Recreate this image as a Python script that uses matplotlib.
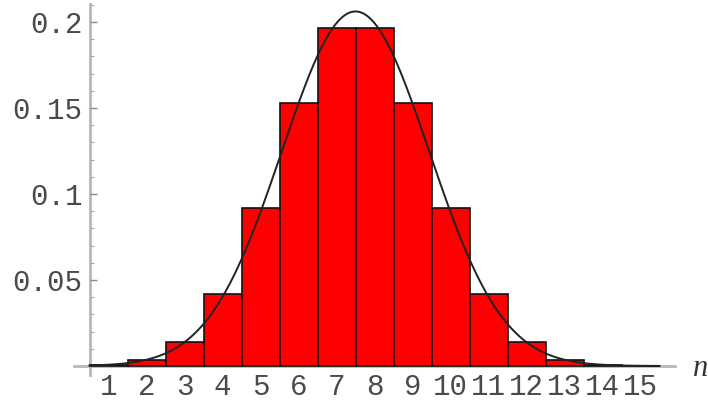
import numpy as np
import matplotlib
matplotlib.use("Agg")
import matplotlib.pyplot as plt
from matplotlib.ticker import MultipleLocator

# Data
n_values = [1, 2, 3, 4, 5, 6, 7, 8, 9, 10, 11, 12, 13, 14, 15]
probabilities = [0.0005, 0.0032, 0.0139, 0.0417, 0.0916, 0.1527, 0.1964,
                 0.1964, 0.1527, 0.0916, 0.0417, 0.0139, 0.0032, 0.0005, 0.00003]
curve_mean = 7.5
curve_sd = 1.936
y_ticks = [0.05, 0.1, 0.15, 0.2]
y_tick_labels = ["0.05", "0.1", "0.15", "0.2"]
x_label = "n"

fig = plt.figure(figsize=(7.08, 4.03), dpi=100)
ax = fig.add_axes([74.3 / 708, 0.0705, 600.4 / 708, 0.920])

ax.bar(n_values, probabilities, width=1.0, color="#ff0000",
       edgecolor="#111111", linewidth=1.2, zorder=2)

xs = np.linspace(0.5, 15.5, 400)
ys = np.exp(-0.5 * ((xs - curve_mean) / curve_sd) ** 2) / (curve_sd * np.sqrt(2 * np.pi))
ax.plot(xs, ys, color="#222222", linewidth=1.4, zorder=3)

ax.set_xlim(0.1, 15.9)
ax.set_ylim(-0.005, 0.2105)

for s in ["top", "right"]:
    ax.spines[s].set_visible(False)
ax.spines["left"].set_position(("data", 0.5))
ax.spines["bottom"].set_position(("data", 0.0))
for s in ["left", "bottom"]:
    ax.spines[s].set_color("#b8b8b8")
    ax.spines[s].set_linewidth(2.0)
    ax.spines[s].set_zorder(1)

mono = "Liberation Mono"
label_color = "#4a4a4a"
ax.set_yticks(y_ticks)
ax.set_yticklabels(y_tick_labels, fontfamily=mono, fontsize=21, color=label_color)
ax.yaxis.set_minor_locator(MultipleLocator(0.01))
ax.tick_params(axis="y", which="major", direction="in", length=5, width=1,
               color="#888888", pad=5)
ax.tick_params(axis="y", which="minor", direction="in", length=3, width=0.8,
               color="#aaaaaa")

ax.set_xticks(n_values)
ax.set_xticklabels([str(v) for v in n_values], fontfamily=mono, fontsize=21,
                   color=label_color)
ax.tick_params(axis="x", which="major", direction="in", length=0, pad=5)

fig.text(693 / 708, (403 - 368) / 403, x_label, fontfamily="Liberation Serif",
         style="italic", fontsize=22, color="#333333", va="center", ha="left")

fig.savefig("out.png", dpi=100)
